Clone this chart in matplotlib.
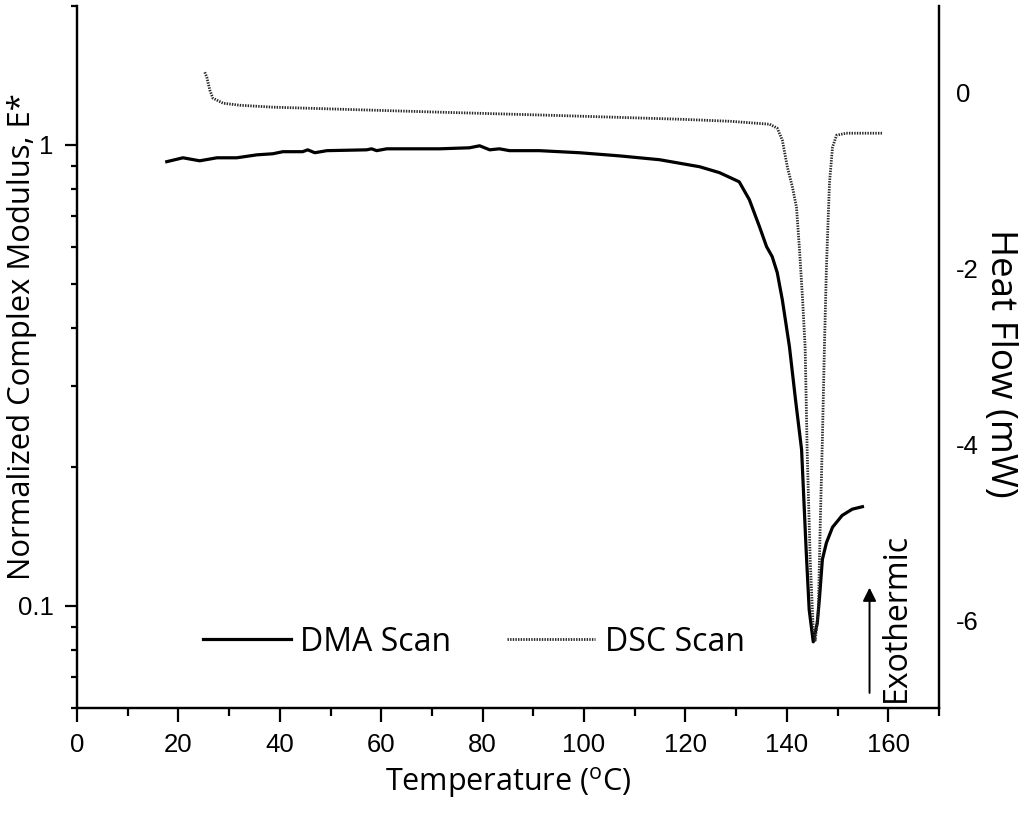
import matplotlib
matplotlib.use("Agg")
import matplotlib.pyplot as plt
from matplotlib.ticker import MultipleLocator, LogLocator, NullFormatter, FuncFormatter, NullLocator
from matplotlib.lines import Line2D

plt.rcParams['font.family'] = ['Open Sans', 'DejaVu Sans']
plt.rcParams['mathtext.fontset'] = 'custom'
plt.rcParams['mathtext.rm'] = 'Open Sans'
plt.rcParams['axes.unicode_minus'] = False

# DMA scan: temperature (C) vs normalized complex modulus
dma_temp = [17.7, 20.9, 24.2, 27.6, 31.5, 35.5, 38.6, 40.6, 44.5, 45.5, 46.9, 49.3,
            57.1, 58.1, 59.1, 61.1, 71.5, 77.4, 79.4, 81.4, 83.3, 85.3, 91.2, 99.1,
            107.0, 114.9, 122.8, 126.7, 129.7, 130.6, 132.6, 134.6, 136.0, 137.1,
            138.1, 139.1, 140.5, 141.7, 142.9, 143.8, 144.4, 145.2, 146.0, 146.4,
            147.0, 147.8, 149.0, 150.9, 152.9, 154.9]
dma_mod = [0.919, 0.937, 0.923, 0.937, 0.937, 0.951, 0.956, 0.966, 0.966, 0.975, 0.961, 0.971,
           0.975, 0.980, 0.971, 0.980, 0.980, 0.985, 0.995, 0.975, 0.980, 0.971, 0.971, 0.961,
           0.946, 0.928, 0.896, 0.870, 0.840, 0.831, 0.760, 0.664, 0.601, 0.572,
           0.528, 0.461, 0.365, 0.280, 0.218, 0.132, 0.098, 0.0835, 0.0918, 0.103,
           0.126, 0.137, 0.148, 0.157, 0.162, 0.164]

# DSC scan: temperature (C) vs heat flow (mW)
dsc_temp = [25.2, 25.6, 26.2, 26.8, 28.8, 32.1, 38.6, 51.8, 71.5, 95.0, 118.8, 128.7,
            136.6, 138.1, 139.1, 140.1, 141.1, 141.9, 142.5, 143.1, 143.6, 144.0, 144.6,
            145.2, 145.6, 146.2, 146.6, 147.0, 147.4, 147.8, 148.4, 149.0, 149.8, 151.7, 158.8]
dsc_heat = [0.227, 0.17, 0.023, -0.068, -0.125, -0.148, -0.170, -0.193, -0.227, -0.265, -0.307, -0.330,
            -0.364, -0.409, -0.545, -0.852, -1.08, -1.31, -1.80, -2.36, -2.90, -4.07, -5.32,
            -6.11, -6.23, -5.89, -4.86, -3.95, -2.90, -1.99, -1.03, -0.625, -0.489, -0.466, -0.466]

DSC_STYLE = dict(color='#262626', lw=2.0, linestyle=(0, (0.5, 0.45)))

fig = plt.figure(figsize=(10.24, 8.15), dpi=100)
ax = fig.add_axes([77 / 1024, 1 - 708 / 815, (939 - 77) / 1024, (708 - 6) / 815])
ax2 = ax.twinx()

ax.plot(dma_temp, dma_mod, color='black', lw=2.3, solid_joinstyle='round')
ax2.plot(dsc_temp, dsc_heat, **DSC_STYLE)

ax.set_yscale('log')
ax.set_xlim(0, 170)
ax.set_ylim(0.06, 2.0)
ax2.set_ylim(-7.0, 0.98)

ax.xaxis.set_major_locator(MultipleLocator(20))
ax.xaxis.set_minor_locator(MultipleLocator(10))
ax.yaxis.set_major_locator(LogLocator(base=10))
ax.yaxis.set_minor_locator(LogLocator(base=10, subs=range(2, 10)))
ax.yaxis.set_major_formatter(FuncFormatter(lambda v, p: f"{v:g}"))
ax.yaxis.set_minor_formatter(NullFormatter())

for a in (ax, ax2):
    a.spines['top'].set_visible(False)
    for s in a.spines.values():
        s.set_linewidth(1.6)

ax.tick_params(axis='both', which='major', direction='out', length=10, width=1.6, pad=8)
ax.tick_params(axis='both', which='minor', direction='out', length=5.5, width=1.6)
ax.tick_params(axis='y', which='major', length=9, pad=8)
ax.tick_params(axis='y', which='minor', length=4.5)
ax2.yaxis.set_major_locator(MultipleLocator(2))
ax2.yaxis.set_minor_locator(NullLocator())
ax2.tick_params(axis='y', which='major', length=0, pad=12)
for lab in ax.get_xticklabels() + ax.get_yticklabels() + ax2.get_yticklabels():
    lab.set_fontfamily('Liberation Sans')
    lab.set_fontsize(18.5)

ax.set_xlabel('Temperature ($^{\\rm o}$C)', fontsize=22, labelpad=6)
fig.text(22 / 1024, 1 - 337 / 815, 'Normalized Complex Modulus, E*', rotation=90,
         fontsize=22.3, ha='center', va='center')
fig.text(1000 / 1024, 1 - 363 / 815, 'Heat Flow (mW)', rotation=270,
         fontsize=26.5, ha='center', va='center')

# exothermic arrow
ax2.annotate('', xy=(156.3, -5.60), xytext=(156.3, -6.86),
             arrowprops=dict(arrowstyle='-|>', color='black', lw=1.4, mutation_scale=20))
ax2.text(161.6, -5.97, 'Exothermic', rotation=90, fontsize=23, ha='center', va='center')

handles = [Line2D([], [], color='black', lw=2.3), Line2D([], [], **DSC_STYLE)]
ax.legend(handles, ['DMA Scan', 'DSC Scan'], loc='center left', bbox_to_anchor=(0.146, 0.094),
          ncol=2, frameon=False, fontsize=23, handlelength=2.75, handletextpad=0.3,
          columnspacing=1.75, borderpad=0, borderaxespad=0)

fig.savefig('out.png', dpi=100)
